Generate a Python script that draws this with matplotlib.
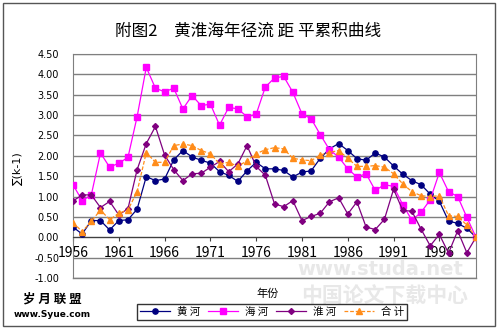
import matplotlib

matplotlib.use("Agg")
import matplotlib.pyplot as plt
from matplotlib.patches import Rectangle

plt.rcParams["font.family"] = ["Noto Sans CJK SC", "DejaVu Sans"]

# 年份 1956-2000
years = list(range(1956, 2001))

huanghe = [0.25, 0.08, 0.41, 0.41, 0.18, 0.41, 0.43, 0.69, 1.49, 1.39,
           1.43, 1.90, 2.13, 1.97, 1.89, 1.82, 1.61, 1.52, 1.37, 1.63,
           1.84, 1.68, 1.68, 1.64, 1.48, 1.60, 1.63, 1.94, 2.17, 2.30,
           2.13, 1.93, 1.89, 2.07, 1.97, 1.75, 1.55, 1.39, 1.29, 1.06,
           0.88, 0.40, 0.34, 0.22, 0.00]
haihe = [1.29, 0.90, 1.04, 2.07, 1.72, 1.82, 1.96, 2.96, 4.17, 3.66,
         3.57, 3.66, 3.15, 3.48, 3.23, 3.27, 2.75, 3.19, 3.15, 2.96,
         3.02, 3.69, 3.91, 3.95, 3.56, 3.03, 2.91, 2.52, 2.15, 1.97,
         1.68, 1.48, 1.56, 1.15, 1.29, 1.25, 0.80, 0.42, 0.61, 0.92,
         1.59, 1.12, 1.00, 0.49, 0.00]
huaihe = [0.89, 1.04, 1.04, 0.73, 0.88, 0.55, 0.70, 1.66, 2.30, 2.72,
          2.02, 1.66, 1.39, 1.56, 1.57, 1.72, 1.86, 1.61, 1.80, 2.25,
          1.74, 1.52, 0.82, 0.75, 0.90, 0.41, 0.51, 0.59, 0.87, 0.97,
          0.57, 0.87, 0.25, 0.19, 0.44, 1.18, 0.66, 0.64, 0.20, -0.21,
          0.07, -0.39, 0.16, -0.38, 0.00]
heji = [0.36, 0.14, 0.39, 0.67, 0.43, 0.59, 0.67, 1.12, 2.08, 1.84,
        1.84, 2.25, 2.29, 2.25, 2.13, 2.05, 1.80, 1.84, 1.74, 1.88,
        2.05, 2.15, 2.20, 2.17, 1.94, 1.90, 1.88, 2.02, 2.08, 2.13,
        1.94, 1.74, 1.74, 1.76, 1.72, 1.56, 1.31, 1.12, 1.02, 1.00,
        1.02, 0.53, 0.51, 0.30, 0.00]

year_ticks = list(range(1956, 2000, 5))
y_ticks = [-1.0, -0.5, 0.0, 0.5, 1.0, 1.5, 2.0, 2.5, 3.0, 3.5, 4.0, 4.5]

fig = plt.figure(figsize=(5.0, 3.29), dpi=100)
fig.patches.append(Rectangle((0.006, 0.008), 0.984, 0.984, transform=fig.transFigure,
                             fill=False, edgecolor="#555555", lw=1.0))

# 水印（放在最底层）
fig.text(0.76, 0.182, "www.studa.net", ha="center", va="center", fontsize=14, color="#e8e8e8",
         family=["DejaVu Sans"], weight="bold", zorder=0)
fig.text(0.77, 0.098, "中国论文下载中心", ha="center", va="center", fontsize=15, color="#e8e8e8",
         weight="bold", zorder=0)

ax = fig.add_axes([0.146, 0.155, 0.806, 0.681])
ax.patch.set_alpha(0)

# 网格线
for v in y_ticks:
    ax.axhline(v, color="#7f7f7f", lw=1.0, zorder=1)

ax.plot(years, huanghe, color="#000080", lw=0.9, marker="o", ms=3.8, label="黄 河", zorder=4)
ax.plot(years, haihe, color="#ff00ff", lw=0.9, marker="s", ms=3.8, label="海 河", zorder=4)
ax.plot(years, huaihe, color="#800080", lw=0.9, marker="D", ms=3.0, label="淮 河", zorder=4)
ax.plot(years, heji, color="#ff8c1a", lw=0.9, ls=(0, (3, 1.5)), marker="^", ms=3.8,
        label="合 计", zorder=4)

ax.set_xlim(1956, 2000)
ax.set_ylim(-1.0, 4.5)
ax.set_yticks(y_ticks)
ax.set_yticklabels([f"{v:.2f}" for v in y_ticks], fontsize=7, family="DejaVu Sans")
ax.set_xticks(year_ticks)
ax.set_xticklabels([str(y) for y in year_ticks], fontsize=7, family="DejaVu Sans")

ax.spines["bottom"].set_position(("data", 0))
ax.spines["bottom"].set_color("#404040")
for s in ["left", "right", "top"]:
    ax.spines[s].set_color("#7f7f7f")
ax.tick_params(axis="x", direction="out", length=3, pad=3, color="#404040")
ax.tick_params(axis="y", length=0, pad=10)

# 底部绘图区边框
ax.plot([0, 1], [0, 0], transform=ax.transAxes, color="#7f7f7f", lw=1.0, clip_on=False)

fig.text(0.496, 0.905, "附图2　黄淮海年径流 距 平累积曲线", ha="center", va="center", fontsize=12)
fig.text(0.036, 0.49, "∑(k-1)", rotation=90, ha="center", va="center", fontsize=8,
         family=["DejaVu Sans"])
fig.text(0.536, 0.108, "年份", ha="center", va="center", fontsize=8)

fig.legend(loc="center", bbox_to_anchor=(0.544, 0.052), ncol=4, fontsize=7.5,
           frameon=True, fancybox=False, edgecolor="black", handlelength=2.9,
           columnspacing=0.7, handletextpad=0.7, borderpad=0.25)

fig.text(0.105, 0.09, "岁 月 联 盟", ha="center", va="center", fontsize=9, weight="bold")
fig.text(0.105, 0.045, "www.Syue.com", ha="center", va="center", fontsize=6.5, weight="bold",
         family=["DejaVu Sans"])

fig.savefig("out.png", dpi=100)
